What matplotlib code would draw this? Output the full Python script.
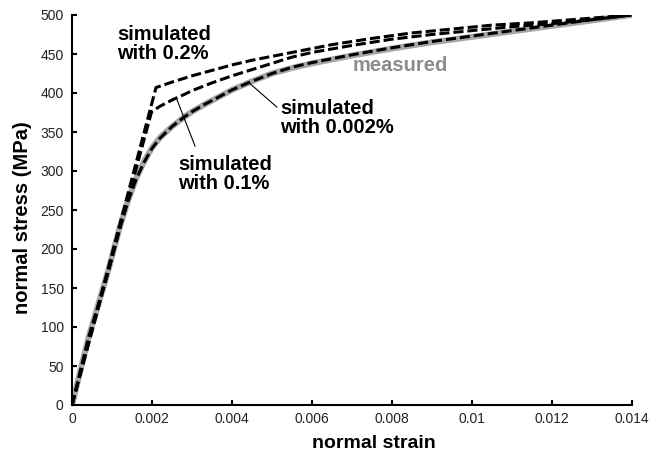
import matplotlib
matplotlib.use("Agg")
import matplotlib.pyplot as plt

plt.rcParams["font.family"] = ["Liberation Sans", "DejaVu Sans"]

# measured curve and the three simulations (strain, stress in MPa)
measured_strain = [0, 0.00041, 0.00091, 0.0012, 0.0014, 0.0016, 0.0018, 0.002, 0.0022,
                   0.0025, 0.0028, 0.003, 0.0033, 0.0036, 0.004, 0.0045, 0.005, 0.0055,
                   0.006, 0.007, 0.008, 0.009, 0.010, 0.011, 0.012, 0.013, 0.01398]
measured_stress = [0, 86, 173, 229, 262, 290, 312, 330, 343,
                   357, 369, 376, 385, 393, 404, 415, 425, 432,
                   438, 448, 457, 465, 472, 479, 486, 493, 500]

sim0002_strain = measured_strain
sim0002_stress = [0, 86, 172, 228, 261, 289, 311, 329, 342,
                  357, 369, 376, 385, 393, 404, 415, 425, 433,
                  439, 449, 458, 466, 473, 480, 487, 494, 500]

sim01_strain = [0, 0.00199, 0.0022, 0.0025, 0.0028, 0.003, 0.0035, 0.004, 0.0045,
                0.005, 0.0055, 0.006, 0.007, 0.008, 0.009, 0.010, 0.011, 0.012,
                0.013, 0.01398]
sim01_stress = [0, 376, 383, 391, 398, 403, 413, 422, 430,
                438, 446, 452, 461, 469, 475, 480, 485, 489,
                494, 500]

sim02_strain = [0, 0.0021, 0.0025, 0.003, 0.0035, 0.004, 0.0045, 0.005, 0.0057,
                0.0065, 0.0075, 0.0085, 0.0095, 0.0105, 0.0115, 0.0125, 0.01398]
sim02_stress = [0, 407, 414, 422, 429, 436, 442, 447, 454,
                462, 470, 477, 482, 487, 490, 494, 500]

x_ticks = [0, 0.002, 0.004, 0.006, 0.008, 0.01, 0.012, 0.014]
x_tick_labels = ["0", "0.002", "0.004", "0.006", "0.008", "0.01", "0.012", "0.014"]
y_ticks = list(range(0, 501, 50))

fig = plt.figure(figsize=(6.72, 4.51), dpi=100)
fig.patch.set_facecolor("white")
ax = fig.add_axes([72 / 672, 46 / 451, 560 / 672, 390 / 451])

dash = (3.3, 1.3)
ax.plot(measured_strain, measured_stress, color="#a6a6a6", lw=4.3, solid_capstyle="round")
ax.plot(sim0002_strain, sim0002_stress, color="black", lw=2.2, dashes=dash)
ax.plot(sim01_strain, sim01_stress, color="black", lw=2.2, dashes=dash)
ax.plot(sim02_strain, sim02_stress, color="black", lw=2.2, dashes=dash)

ax.set_xlim(0, 0.014)
ax.set_ylim(0, 500)
ax.set_xticks(x_ticks)
ax.set_xticklabels(x_tick_labels)
ax.set_yticks(y_ticks)

for side in ("top", "right"):
    ax.spines[side].set_visible(False)
for side in ("left", "bottom"):
    ax.spines[side].set_linewidth(1.5)
ax.tick_params(direction="in", length=3.6, width=1.5, labelsize=10,
               labelcolor="#222222")
ax.tick_params(axis="x", pad=5)
ax.tick_params(axis="y", pad=6)

fig.text(374 / 672, 1 - 443 / 451, "normal strain", ha="center", va="center",
         fontsize=14, fontweight="bold")
fig.text(23 / 672, 1 - 218 / 451, "normal stress (MPa)", ha="center", va="center",
         rotation=90, fontsize=14.5, fontweight="bold")

# annotations
txt = dict(fontsize=14.5, fontweight="bold", ha="left", va="top", linespacing=1.0)
ax.text(0.001125, 487, "simulated\nwith 0.2%", **txt)
ax.text(0.0052, 392, "simulated\nwith 0.002%", **txt)
ax.text(0.00265, 320, "simulated\nwith 0.1%", **txt)
ax.text(0.007025, 447, "measured", color="#8c8c8c", **txt)

ax.plot([0.00262, 0.003075], [392, 332], color="black", lw=0.8)
ax.plot([0.00445, 0.00512], [412, 382], color="black", lw=0.8)

fig.savefig("out.png", dpi=100)
